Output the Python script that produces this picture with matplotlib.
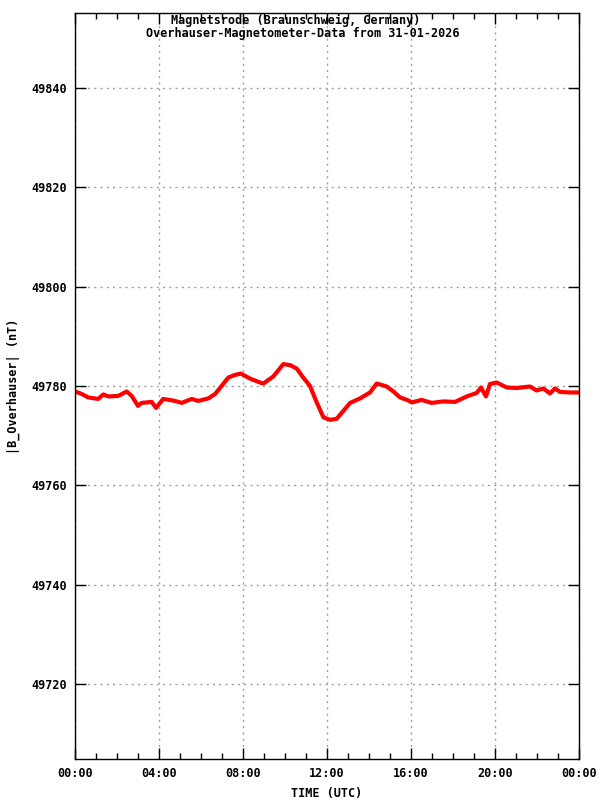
import matplotlib
matplotlib.use("Agg")
import matplotlib.pyplot as plt
from matplotlib.ticker import MultipleLocator

hours = [0.0, 0.32, 0.63, 1.1, 1.35, 1.59, 2.06, 2.46, 2.7, 3.0, 3.17, 3.65, 3.86,
         4.2, 4.76, 5.08, 5.56, 5.87, 6.35, 6.67, 6.98, 7.3, 7.6, 7.9,
         8.33, 8.81, 8.97, 9.44, 9.92, 10.24, 10.56, 10.87, 11.19, 11.51, 11.83,
         12.14, 12.46, 12.78, 13.1, 13.57, 14.05, 14.37, 14.84, 15.16, 15.48, 15.87,
         16.03, 16.51, 16.98, 17.54, 18.1, 18.65, 19.13, 19.33, 19.57, 19.76, 20.08,
         20.56, 21.03, 21.67, 21.98, 22.3, 22.62, 22.86, 23.1, 23.57, 24.0]
values = [49778.9, 49778.4, 49777.7, 49777.4, 49778.3, 49777.9, 49778.0, 49778.9, 49778.0,
          49776.0, 49776.6, 49776.8, 49775.6,
          49777.4, 49777.0, 49776.6, 49777.4, 49777.0, 49777.5, 49778.4, 49780.0, 49781.7,
          49782.2, 49782.5,
          49781.5, 49780.7, 49780.5, 49781.9, 49784.4, 49784.2, 49783.5, 49781.7, 49780.0,
          49776.7, 49773.7,
          49773.2, 49773.4, 49775.0, 49776.6, 49777.5, 49778.7, 49780.5, 49779.9, 49778.9,
          49777.7, 49777.1,
          49776.7, 49777.2, 49776.6, 49776.9, 49776.8, 49777.9, 49778.6, 49779.7, 49777.9,
          49780.4, 49780.7,
          49779.7, 49779.6, 49779.9, 49779.1, 49779.5, 49778.5, 49779.5, 49778.8, 49778.7,
          49778.7]

xticks = [0, 4, 8, 12, 16, 20, 24]
xticklabels = ["00:00", "04:00", "08:00", "12:00", "16:00", "20:00", "00:00"]
yticks = [49720, 49740, 49760, 49780, 49800, 49820, 49840]

title1 = "Magnetsrode (Braunschweig, Germany)"
title2 = "Overhauser-Magnetometer-Data from 31-01-2026"

font = {"family": "DejaVu Sans Mono", "weight": "bold", "size": 8.5}

fig = plt.figure(figsize=(6, 8), dpi=100)
ax = fig.add_axes([0.125, 0.05125, 0.84, 0.9325])
ax.plot(hours, values, color="#ff0000", lw=3.0, solid_joinstyle="round")
ax.set_xlim(0, 24)
ax.set_ylim(49705, 49855)
ax.set_xticks(xticks)
ax.set_xticklabels(xticklabels, fontdict=font)
ax.xaxis.set_minor_locator(MultipleLocator(1))
ax.set_yticks(yticks)
ax.set_yticklabels([str(v) for v in yticks], fontdict=font)
ax.tick_params(which="both", direction="in", top=True, right=True, color="black")
ax.tick_params(which="major", length=8, width=1, pad=6)
ax.tick_params(which="minor", length=4, width=1)
ax.grid(True, which="major", color="#a0a0a0", linestyle=(0, (1.5, 3)), linewidth=1)
for s in ax.spines.values():
    s.set_linewidth(1)
    s.set_color("black")

ax.set_xlabel("TIME (UTC)", fontdict=font, labelpad=5)
ax.set_ylabel("|B_Overhauser| (nT)", fontdict=font, labelpad=8)

fig.text(0.493, 0.9745, title1, ha="center", va="center", **font)
fig.text(0.505, 0.9585, title2, ha="center", va="center", **font)

fig.savefig("out.png", dpi=100)
